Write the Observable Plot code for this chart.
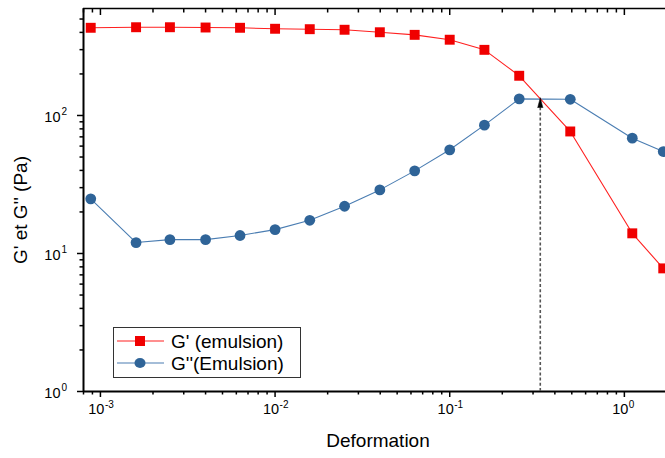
<!DOCTYPE html>
<html><head><meta charset="utf-8">
<script src="https://cdn.jsdelivr.net/npm/d3@7"></script>
<script src="https://cdn.jsdelivr.net/npm/@observablehq/plot@0.6"></script>
<style>
body{margin:0;background:#fff}
#chart{position:relative;width:665px;height:458px;overflow:hidden}
svg text{font-family:"Liberation Sans",Arial,sans-serif}
</style>
</head><body><div id="chart"></div>
<script>
// ---- data ----
const strain = [0.00088, 0.0016, 0.0025, 0.004, 0.0063, 0.01, 0.0158, 0.025, 0.0398, 0.063, 0.1, 0.158, 0.25, 0.49, 1.11, 1.67];
const gPrime = [432, 436, 436, 434, 432, 425, 422, 418, 401, 384, 354, 299, 194, 76.6, 14.0, 7.8];
const gDouble = [24.9, 12.0, 12.6, 12.6, 13.5, 14.9, 17.4, 22.0, 28.9, 39.7, 56.4, 85.1, 132, 131, 68.5, 54.8];
const seriesNames = ["G' (emulsion)", "G''(Emulsion)"];
const seriesColors = ["#f00000", "#2f6498"];
const lineColors = ["#ff2020", "#4a7db2"];
const xMajorTicks = [1e-3, 1e-2, 1e-1, 1];
const xTickExponents = ["-3", "-2", "-1", "0"];
const yMajorTicks = [1, 10, 100];
const yTickExponents = ["0", "1", "2"];
const xDomain = [0.0008, 1.72];
const yDomain = [1, 596];
const crossover = {x: 0.33, y: 133, base: 114};
const xLabel = "Deformation";
const yLabel = "G' et G'' (Pa)";

// minor ticks (2..9 x 10^k inside the domain)
function minors(domain) {
  const out = [];
  for (let k = Math.floor(Math.log10(domain[0])); k <= Math.ceil(Math.log10(domain[1])); k++)
    for (let m = 2; m <= 9; m++) { const v = m * 10 ** k; if (v >= domain[0] && v <= domain[1]) out.push(v); }
  return out;
}
const xMinor = minors(xDomain), yMinor = minors(yDomain);

const gp = strain.map((x, i) => ({x, y: gPrime[i]}));
const gd = strain.map((x, i) => ({x, y: gDouble[i]}));
const xLab = xMajorTicks.map((v, i) => ({v, e: xTickExponents[i]}));
const yLab = yMajorTicks.map((v, i) => ({v, e: yTickExponents[i]}));

const font = {fontFamily: "Liberation Sans, Arial, sans-serif"};
const plot = Plot.plot({
  width: 665, height: 458,
  marginLeft: 83, marginRight: 0, marginTop: 8, marginBottom: 67,
  style: {background: "#fff", overflow: "hidden", ...font},
  x: {type: "log", domain: xDomain, axis: null},
  y: {type: "log", domain: yDomain, axis: null},
  marks: [
    // ticks
    Plot.axisX({anchor: "bottom", ticks: xMajorTicks, tickSize: 6, tickFormat: () => "", label: null, stroke: "#000", strokeWidth: 1.5}),
    Plot.axisX({anchor: "bottom", ticks: xMinor, tickSize: 3.5, tickFormat: () => "", label: null, stroke: "#000", strokeWidth: 1.5}),
    Plot.axisX({anchor: "top", ticks: xMajorTicks, tickSize: -6, tickFormat: () => "", label: null, stroke: "#000", strokeWidth: 1.5}),
    Plot.axisX({anchor: "top", ticks: xMinor, tickSize: -3.5, tickFormat: () => "", label: null, stroke: "#000", strokeWidth: 1.5}),
    Plot.axisY({anchor: "left", ticks: yMajorTicks, tickSize: 6, tickFormat: () => "", label: null, stroke: "#000", strokeWidth: 1.5}),
    Plot.axisY({anchor: "left", ticks: yMinor, tickSize: 3.5, tickFormat: () => "", label: null, stroke: "#000", strokeWidth: 1.5}),
    // frame lines
    Plot.ruleY([yDomain[0]], {stroke: "#000", strokeWidth: 2}),
    Plot.ruleY([yDomain[1]], {stroke: "#000", strokeWidth: 1.5}),
    Plot.ruleX([xDomain[0]], {stroke: "#000", strokeWidth: 2}),
    // tick labels
    Plot.text(xLab, {x: "v", frameAnchor: "bottom", dy: 22, dx: 4, text: () => "10", textAnchor: "end", fontSize: 14.5, fill: "#000"}),
    Plot.text(xLab, {x: "v", frameAnchor: "bottom", dy: 16, dx: 4.5, text: "e", textAnchor: "start", fontSize: 10, fill: "#000"}),
    Plot.text(yLab, {y: "v", frameAnchor: "left", dx: -23, dy: 2, text: () => "10", textAnchor: "end", fontSize: 14.5, fill: "#000"}),
    Plot.text(yLab, {y: "v", frameAnchor: "left", dx: -22, dy: -4, text: "e", textAnchor: "start", fontSize: 10, fill: "#000"}),
    // series
    Plot.line(gd, {x: "x", y: "y", stroke: lineColors[1], strokeWidth: 1.1}),
    Plot.dot(gd, {x: "x", y: "y", r: 5.4, fill: seriesColors[1], stroke: null}),
    Plot.line(gp, {x: "x", y: "y", stroke: lineColors[0], strokeWidth: 1.1}),
    Plot.dot(gp, {x: "x", y: "y", r: 5.6, symbol: "square", fill: seriesColors[0], stroke: null}),
    // crossover arrow
    Plot.ruleX([crossover], {x: "x", y1: yDomain[0], y2: "base", stroke: "#555", strokeWidth: 1.6, strokeDasharray: "3,2.2"}),
    Plot.vector([crossover], {x: "x", y: "base", length: 10, rotate: 0, anchor: "start", shape: "spike", r: 2.6, fill: "#000", stroke: "#000", strokeWidth: 0.5})
  ]
});

const svg = d3.select(plot);
// axis titles
svg.append("text").attr("x", 378).attr("y", 447).attr("text-anchor", "middle")
  .attr("font-size", 19).attr("fill", "#000").text(xLabel);
svg.append("text").attr("transform", "translate(27,210) rotate(-90)").attr("text-anchor", "middle")
  .attr("font-size", 19).attr("fill", "#000").text(yLabel);
// legend
const lg = svg.append("g").attr("text-anchor", "start");
lg.append("rect").attr("x", 113.5).attr("y", 327.5).attr("width", 187).attr("height", 50)
  .attr("fill", "#fff").attr("stroke", "#333").attr("stroke-width", 1);
seriesNames.forEach((name, i) => {
  const cy = 341 + i * 22;
  lg.append("line").attr("x1", 117).attr("x2", 164).attr("y1", cy).attr("y2", cy)
    .attr("stroke", lineColors[i]).attr("stroke-width", 1.2).style("stroke", lineColors[i]);
  if (i === 0) lg.append("rect").attr("x", 135).attr("y", cy - 5).attr("width", 10).attr("height", 10).attr("fill", seriesColors[i]);
  else lg.append("ellipse").attr("cx", 140).attr("cy", cy).attr("rx", 5.5).attr("ry", 5).attr("fill", seriesColors[i]);
  lg.append("text").attr("x", 171).attr("y", cy + 7).attr("text-anchor", "start")
    .attr("font-size", 19).attr("fill", "#000").text(name);
});
document.getElementById("chart").appendChild(plot);
</script>
</body></html>
